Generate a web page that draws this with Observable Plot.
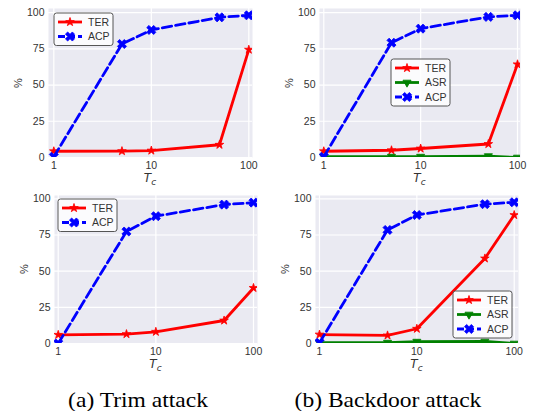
<!DOCTYPE html>
<html>
<head>
<meta charset="utf-8">
<script src="https://cdn.jsdelivr.net/npm/d3@7"></script>
<script src="https://cdn.jsdelivr.net/npm/@observablehq/plot@0.6"></script>
<style>
  body { margin: 0; background: #fff; }
  #root { position: relative; width: 538px; height: 411px; overflow: hidden; font-family: "Liberation Sans", Arial, sans-serif; color: #333; }
  .ylab { position: absolute; font-size: 11px; line-height: 11px; transform: translate(-50%, -50%) rotate(-90deg); white-space: nowrap; }
  .xlab { position: absolute; font-size: 12px; line-height: 12px; transform: translate(-50%, -50%); white-space: nowrap; font-family: "DejaVu Sans", sans-serif; }
  .xlab sub { font-size: 9px; line-height: 9px; vertical-align: -3px; }
  .cap { position: absolute; font-family: "Liberation Serif", "Times New Roman", serif; font-size: 21px; line-height: 22px; color: #000; white-space: nowrap; transform: translate(-50%, 0) scaleX(1.12); }
</style>
</head>
<body>
<div id="root"></div>
<script>
// ---------- data ----------
const tcValues = [1, 5, 10, 50, 100];
const xTicks = [1, 10, 100];
const yTicks = [0, 25, 50, 75, 100];
const seriesNames = ["TER", "ASR", "ACP"];

const terTrimTop = [4.3, 4.4, 4.8, 8.8, 74.4];
const acpTrimTop = [0.5, 78.3, 88.0, 96.7, 98.1];

const terBackdoorTop = [4.3, 5.0, 6.2, 9.3, 64.3];
const asrBackdoorTop = [0.6, 0.6, 0.6, 1.0, 0.0];
const acpBackdoorTop = [0.5, 79.2, 88.9, 97.0, 98.1];

const terTrimBottom = [6.0, 6.5, 8.1, 15.9, 38.4];
const acpTrimBottom = [0.0, 77.4, 88.0, 96.0, 97.4];

const terBackdoorBottom = [6.2, 5.6, 10.2, 58.8, 88.8];
const asrBackdoorBottom = [0.6, 0.6, 1.3, 1.4, 0.0];
const acpBackdoorBottom = [0.5, 78.5, 88.8, 96.3, 97.6];

const captions = ["(a) Trim attack", "(b) Backdoor attack"];

// ---------- styles ----------
const symbolXFilled = {
  draw(context, size) {
    const r = Math.sqrt(size / Math.PI);
    const h = r * 1.25, t = r * 0.4;
    const pts = [[-t,-h],[t,-h],[t,-t],[h,-t],[h,t],[t,t],[t,h],[-t,h],[-t,t],[-h,t],[-h,-t],[-t,-t]];
    pts.forEach(([x, y], i) => {
      const X = (x - y) / Math.SQRT2, Y = (x + y) / Math.SQRT2;
      if (i) context.lineTo(X, Y); else context.moveTo(X, Y);
    });
    context.closePath();
  }
};
const seriesStyle = {
  TER: {color: "#ff0000", symbol: "star", r: 2.7, rotate: 0, dash: null},
  ASR: {color: "#008000", symbol: "triangle", r: 3, rotate: 180, dash: null},
  ACP: {color: "#0000ff", symbol: symbolXFilled, r: 3.9, rotate: 0, dash: "9.5,4"}
};

const panels = [
  {left: 0, top: 0, w: 269, h: 190, mL: 48, mR: 17, mT: 8, mB: 33, xd: [0.882, 109.1], yd: [0, 102.8],
   series: [["TER", terTrimTop], ["ACP", acpTrimTop]],
   legend: {x: 54, y: 13}},
  {left: 269, top: 0, w: 269, h: 190, mL: 50, mR: 18, mT: 8, mB: 33, xd: [0.903, 107.4], yd: [0, 102.8],
   series: [["TER", terBackdoorTop], ["ASR", asrBackdoorTop], ["ACP", acpBackdoorTop]],
   legend: {x: 391, y: 59}},
  {left: 0, top: 190, w: 269, h: 190, mL: 54, mR: 12, mT: 5, mB: 37, xd: [0.916, 109.9], yd: [0, 102.3],
   series: [["TER", terTrimBottom], ["ACP", acpTrimBottom]],
   legend: {x: 58, y: 199}},
  {left: 269, top: 190, w: 269, h: 190, mL: 46, mR: 20, mT: 5, mB: 37, xd: [0.91, 110.7], yd: [0, 102.3],
   series: [["TER", terBackdoorBottom], ["ASR", asrBackdoorBottom], ["ACP", acpBackdoorBottom]],
   legend: {x: 453, y: 291}}
];

const root = document.getElementById("root");

panels.forEach(p => {
  const marks = [
    Plot.frame({fill: "#EAEAF2", stroke: null}),
    Plot.gridX(xTicks, {stroke: "#fff", strokeOpacity: 1, strokeWidth: 1.2}),
    Plot.gridY(yTicks, {stroke: "#fff", strokeOpacity: 1, strokeWidth: 1.2}),
    Plot.axisX(xTicks, {tickSize: 0, tickPadding: 4, label: null, tickFormat: d => String(d), fill: "#333"}),
    Plot.axisY(yTicks, {tickSize: 0, tickPadding: 4, label: null, tickFormat: d => String(d), fill: "#333"})
  ];
  p.series.forEach(([name, vals]) => {
    const st = seriesStyle[name];
    const d = tcValues.map((tc, i) => ({tc, v: vals[i]}));
    marks.push(Plot.line(d, {x: "tc", y: "v", stroke: st.color, strokeWidth: 2.8, strokeDasharray: st.dash, strokeLinejoin: "round", clip: true}));
    marks.push(Plot.dot(d, {x: "tc", y: "v", symbol: st.symbol, r: st.r, fill: st.color, stroke: st.color, strokeWidth: 0.8, rotate: st.rotate, clip: true}));
  });
  const chart = Plot.plot({
    width: p.w, height: p.h,
    marginLeft: p.mL, marginRight: p.mR, marginTop: p.mT, marginBottom: p.mB,
    x: {type: "log", domain: p.xd},
    y: {domain: p.yd},
    style: {fontFamily: "'Liberation Sans', Arial, sans-serif", fontSize: "10.5px", background: "transparent", overflow: "visible"},
    marks
  });
  chart.style.position = "absolute";
  chart.style.left = p.left + "px";
  chart.style.top = p.top + "px";
  root.appendChild(chart);

  // axis labels
  const fx0 = p.left + p.mL, fx1 = p.left + p.w - p.mR;
  const fy0 = p.top + p.mT, fy1 = p.top + p.h - p.mB;
  const yl = document.createElement("div");
  yl.className = "ylab";
  yl.textContent = "%";
  yl.style.left = (fx0 - 30) + "px";
  yl.style.top = ((fy0 + fy1) / 2) + "px";
  root.appendChild(yl);
  const xl = document.createElement("div");
  xl.className = "xlab";
  xl.innerHTML = "<i>T</i><sub><i>c</i></sub>";
  xl.style.left = ((fx0 + fx1) / 2) + "px";
  xl.style.top = (fy1 + 22) + "px";
  root.appendChild(xl);

  // legend
  const n = p.series.length;
  const lw = 59, lh = 18 + (n - 1) * 14.5;
  const svg = d3.create("svg").attr("width", lw + 2).attr("height", lh + 2)
    .style("position", "absolute").style("left", (p.legend.x - 1) + "px").style("top", (p.legend.y - 1) + "px");
  svg.append("rect").attr("x", 1).attr("y", 1).attr("width", lw).attr("height", lh).attr("rx", 2.5)
    .attr("fill", "#fff").attr("fill-opacity", 0.8).attr("stroke", "#555").attr("stroke-width", 1);
  p.series.forEach(([name], i) => {
    const st = seriesStyle[name];
    const cy = 1 + 9 + i * 14.5;
    svg.append("line").attr("x1", 5).attr("x2", 29).attr("y1", cy).attr("y2", cy)
      .attr("stroke", st.color).attr("stroke-width", 2.8).attr("stroke-dasharray", st.dash ? "7,3" : null);
    const typ = st.symbol === "star" ? d3.symbolStar : st.symbol === "triangle" ? d3.symbolTriangle : st.symbol;
    svg.append("path").attr("d", d3.symbol(typ, Math.PI * st.r * st.r)())
      .attr("transform", `translate(17,${cy}) rotate(${st.rotate})`)
      .attr("fill", st.color).attr("stroke", st.color).attr("stroke-width", 0.8);
    svg.append("text").attr("x", 35).attr("y", cy).attr("dy", "0.35em")
      .attr("font-size", "10.5px").attr("fill", "#333")
      .attr("font-family", "'Liberation Sans', Arial, sans-serif").text(name);
  });
  root.appendChild(svg.node());
});

// captions
[[138, captions[0]], [388, captions[1]]].forEach(([cx, t]) => {
  const c = document.createElement("div");
  c.className = "cap";
  c.textContent = t;
  c.style.left = cx + "px";
  c.style.top = "389px";
  root.appendChild(c);
});
</script>
</body>
</html>
